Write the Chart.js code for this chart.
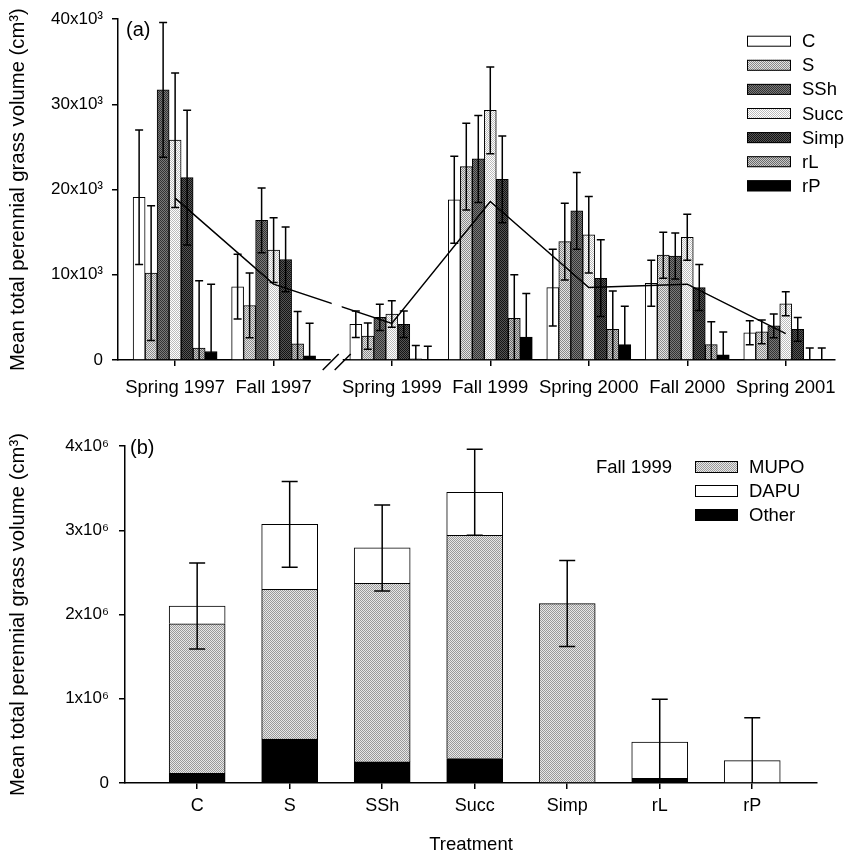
<!DOCTYPE html>
<html>
<head>
<meta charset="utf-8">
<script src="https://cdn.jsdelivr.net/npm/chart.js@4.4.1/dist/chart.umd.min.js"></script>
<style>
  html, body { margin: 0; padding: 0; background: #fff; }
  #wrap { position: relative; width: 853px; height: 857px; }
  canvas { position: absolute; left: 0; }
  #chartA { top: 0; }
  #chartB { top: 410px; }
</style>
</head>
<body>
<div id="wrap">
  <canvas id="chartA" width="853" height="410"></canvas>
  <canvas id="chartB" width="853" height="447"></canvas>
</div>
<script>
// ---- panel (a): volume by sampling date (x10^3 cm3) ----
const periods = ['Spring 1997', 'Fall 1997', 'Spring 1999', 'Fall 1999', 'Spring 2000', 'Fall 2000', 'Spring 2001'];
const treatments = ['C', 'S', 'SSh', 'Succ', 'Simp', 'rL', 'rP'];

const volC    = [19.1,  8.6, 4.2,  18.8,  8.5,  9.0, 3.2];
const volS    = [10.2,  6.4, 2.8,  22.7, 13.9, 12.3, 3.3];
const volSSh  = [31.7, 16.4, 5.0,  23.6, 17.5, 12.2, 4.0];
const volSucc = [25.8, 12.9, 5.4,  29.3, 14.7, 14.4, 6.6];
const volSimp = [21.4, 11.8, 4.2,  21.2,  9.6,  8.5, 3.6];
const volRL   = [1.4,   1.9, 0.15,  4.9,  3.6,  1.8, 0];
const volRP   = [1.0,   0.5, 0.05,  2.7,  1.8,  0.6, 0];
const seA     = [7.9,   3.8, 1.55,  5.1,  4.5,  2.7, 1.4];
const meanLine = [19.0, 8.9, 4.3,  18.6,  8.5,  8.9, 3.1];
const yTicksA = [0, 10, 20, 30, 40];

// ---- panel (b): Fall 1999 by species (x10^6 cm3) ----
const fall99Mupo  = [1.775, 1.78, 2.12, 2.65, 2.13, 0,     0];
const fall99Dapu  = [0.21,  0.77, 0.42, 0.51, 0,    0.43,  0.265];
const fall99Other = [0.115, 0.52, 0.25, 0.29, 0,    0.055, 0];
const seB         = [0.51,  0.51, 0.51, 0.51, 0.51, 0.51,  0.51];
const yTicksB = [0, 1, 2, 3, 4];

const FONT = "'Liberation Sans', Arial, Helvetica, sans-serif";
Chart.defaults.font.family = FONT;
Chart.defaults.color = '#000';

function stipple(a, b) {
  const c = document.createElement('canvas');
  c.width = 2; c.height = 2;
  const g = c.getContext('2d');
  g.fillStyle = a; g.fillRect(0, 0, 2, 2);
  g.fillStyle = b; g.fillRect(0, 0, 1, 1); g.fillRect(1, 1, 1, 1);
  return g.createPattern(c, 'repeat');
}

const fills = [
  '#ffffff',
  stipple('#e4e4e4', '#8a8a8a'),
  stipple('#7a7a7a', '#333333'),
  stipple('#ffffff', '#bcbcbc'),
  stipple('#555555', '#141414'),
  stipple('#c8c8c8', '#6a6a6a'),
  '#000000'
];
const seriesA = [volC, volS, volSSh, volSucc, volSimp, volRL, volRP];

// break in the time axis (1998 not sampled)
const breakGap = 0.2;
const periodX = periods.map((p, i) => i + (i >= 2 ? breakGap : 0));

const axisGrid = { drawOnChartArea: false, color: '#000', tickLength: 6, lineWidth: 1.5, offset: false };
const axisBorder = { color: '#000', width: 1.5 };

const errorBarsA = {
  id: 'errorBarsA',
  afterDatasetsDraw(chart) {
    const ctx = chart.ctx, y = chart.scales.y;
    ctx.save();
    ctx.strokeStyle = '#000';
    ctx.lineWidth = 1.5;
    seriesA.forEach((vals, d) => {
      chart.getDatasetMeta(d).data.forEach((bar, i) => {
        const v = vals[i], e = seA[i];
        const top = y.getPixelForValue(v + e);
        const low = v - e;
        const bot = y.getPixelForValue(Math.max(0, low));
        ctx.beginPath();
        ctx.moveTo(bar.x, bot); ctx.lineTo(bar.x, top);
        ctx.moveTo(bar.x - 4, top); ctx.lineTo(bar.x + 4, top);
        if (low > 0) { ctx.moveTo(bar.x - 4, bot); ctx.lineTo(bar.x + 4, bot); }
        ctx.stroke();
      });
    });
    ctx.restore();
  }
};

const decorA = {
  id: 'decorA',
  afterDraw(chart) {
    const ctx = chart.ctx, a = chart.chartArea;
    const xs = chart.scales.x;
    ctx.save();
    // axis break
    const bx = (xs.getPixelForValue(1) + xs.getPixelForValue(2 + breakGap)) / 2 + 4;
    ctx.fillStyle = '#fff';
    ctx.fillRect(bx - 5, a.top, 10, a.bottom - a.top - 5);
    ctx.fillRect(bx - 6, a.bottom - 4, 12, 8);
    ctx.strokeStyle = '#000';
    ctx.lineWidth = 1.5;
    ctx.beginPath();
    ctx.moveTo(bx - 14, a.bottom + 10); ctx.lineTo(bx + 2, a.bottom - 6);
    ctx.moveTo(bx - 2, a.bottom + 10); ctx.lineTo(bx + 14, a.bottom - 6);
    ctx.stroke();
    // panel tag
    ctx.fillStyle = '#000';
    ctx.font = '20px ' + FONT;
    ctx.textBaseline = 'alphabetic';
    ctx.fillText('(a)', a.left + 8, a.top + 17);
    // legend
    ctx.font = '18.5px ' + FONT;
    ctx.textBaseline = 'middle';
    ctx.lineWidth = 1;
    treatments.forEach((t, i) => {
      const cy = a.top + 22 + i * 24.1;
      const x0 = a.right - 88;
      ctx.fillStyle = fills[i];
      ctx.fillRect(x0, cy - 5.5, 44, 11);
      ctx.strokeRect(x0 + 0.5, cy - 5.5 + 0.5, 43, 10);
      ctx.fillStyle = '#000';
      ctx.fillText(t, x0 + 55, cy + 1);
    });
    ctx.restore();
  }
};

const dsA = seriesA.map((vals, d) => ({
  label: treatments[d],
  data: vals.map((v, i) => ({ x: periodX[i], y: v })),
  backgroundColor: fills[d],
  borderColor: '#000',
  borderWidth: 1,
  barThickness: 12
}));
dsA.push({
  type: 'line',
  label: 'mean',
  data: meanLine.map((v, i) => ({ x: periodX[i], y: v })),
  borderColor: '#000',
  borderWidth: 1.5,
  pointRadius: 0,
  fill: false,
  order: -1
});

new Chart(document.getElementById('chartA'), {
  type: 'bar',
  data: { datasets: dsA },
  options: {
    responsive: false,
    animation: false,
    devicePixelRatio: 1,
    layout: { padding: { left: 0, top: 17, right: 18, bottom: 0 } },
    plugins: { legend: { display: false }, tooltip: { enabled: false } },
    scales: {
      x: {
        type: 'linear',
        min: -0.58,
        max: 6.7,
        offset: false,
        grid: axisGrid,
        border: axisBorder,
        afterBuildTicks: s => { s.ticks = periodX.map(v => ({ value: v })); },
        afterFit: s => { s.height = 50; },
        ticks: {
          autoSkip: false, maxRotation: 0, padding: 11,
          font: { size: 18.5 },
          callback: (v, i) => periods[i]
        }
      },
      y: {
        min: 0,
        max: 40,
        grid: axisGrid,
        border: axisBorder,
        afterBuildTicks: s => { s.ticks = yTicksA.map(v => ({ value: v })); },
        afterFit: s => { s.width = 118; },
        ticks: {
          padding: 9,
          font: { size: 17 },
          callback: v => v === 0 ? '0' : v + 'x10³'
        },
        title: {
          display: true,
          text: 'Mean total perennial grass volume (cm³)',
          font: { size: 20.3 },
          padding: { top: 6, bottom: 0 }
        }
      }
    }
  },
  plugins: [errorBarsA, decorA]
});

// ---- panel (b) ----
const fillMupo = stipple('#e8e8e8', '#9a9a9a');
const stackB = [
  { label: 'Other', vals: fall99Other, fill: '#000000' },
  { label: 'MUPO', vals: fall99Mupo, fill: fillMupo },
  { label: 'DAPU', vals: fall99Dapu, fill: '#ffffff' }
];

const errorBarsB = {
  id: 'errorBarsB',
  afterDatasetsDraw(chart) {
    const ctx = chart.ctx, y = chart.scales.y, x = chart.scales.x;
    ctx.save();
    ctx.strokeStyle = '#000';
    ctx.lineWidth = 1.5;
    treatments.forEach((t, i) => {
      const total = fall99Other[i] + fall99Mupo[i] + fall99Dapu[i];
      const px = x.getPixelForValue(i);
      const top = y.getPixelForValue(total + seB[i]);
      const low = total - seB[i];
      const bot = y.getPixelForValue(Math.max(0, low));
      ctx.beginPath();
      ctx.moveTo(px, bot); ctx.lineTo(px, top);
      ctx.moveTo(px - 8, top); ctx.lineTo(px + 8, top);
      if (low > 0) { ctx.moveTo(px - 8, bot); ctx.lineTo(px + 8, bot); }
      ctx.stroke();
    });
    ctx.restore();
  }
};

const decorB = {
  id: 'decorB',
  afterDraw(chart) {
    const ctx = chart.ctx, a = chart.chartArea;
    ctx.save();
    ctx.fillStyle = '#000';
    ctx.font = '20px ' + FONT;
    ctx.textBaseline = 'alphabetic';
    ctx.fillText('(b)', a.left + 5, a.top + 8);
    ctx.font = '18.5px ' + FONT;
    ctx.textBaseline = 'middle';
    ctx.textAlign = 'right';
    const lx = a.right - 122;
    ctx.fillText('Fall 1999', lx - 23, a.top + 22);
    ctx.textAlign = 'left';
    ctx.lineWidth = 1;
    [stackB[1], stackB[2], stackB[0]].forEach((s, i) => {
      const cy = a.top + 21 + i * 24;
      ctx.fillStyle = s.fill;
      ctx.fillRect(lx, cy - 6, 43, 12);
      ctx.strokeRect(lx + 0.5, cy - 6 + 0.5, 42, 11);
      ctx.fillStyle = '#000';
      ctx.fillText(s.label, lx + 54, cy + 1);
    });
    ctx.restore();
  }
};

new Chart(document.getElementById('chartB'), {
  type: 'bar',
  data: {
    datasets: stackB.map(s => ({
      label: s.label,
      data: s.vals.map((v, i) => ({ x: i, y: v })),
      backgroundColor: s.fill,
      borderColor: '#000',
      borderWidth: 1,
      barThickness: 56
    }))
  },
  options: {
    responsive: false,
    animation: false,
    devicePixelRatio: 1,
    layout: { padding: { left: 0, top: 36, right: 36, bottom: 0 } },
    plugins: { legend: { display: false }, tooltip: { enabled: false } },
    scales: {
      x: {
        type: 'linear',
        stacked: true,
        min: -0.78,
        max: 6.7,
        offset: false,
        grid: axisGrid,
        border: axisBorder,
        afterBuildTicks: s => { s.ticks = treatments.map((t, i) => ({ value: i })); },
        afterFit: s => { s.height = 74; },
        ticks: {
          autoSkip: false, maxRotation: 0, padding: 6,
          font: { size: 18 },
          callback: (v, i) => treatments[i]
        },
        title: {
          display: true,
          text: 'Treatment',
          font: { size: 18.5 },
          padding: { top: 4, bottom: 1 }
        }
      },
      y: {
        stacked: true,
        min: 0,
        max: 4,
        grid: axisGrid,
        border: axisBorder,
        afterBuildTicks: s => { s.ticks = yTicksB.map(v => ({ value: v })); },
        afterFit: s => { s.width = 125; },
        ticks: {
          padding: 10,
          font: { size: 17 },
          callback: v => v === 0 ? '0' : v + 'x10⁶'
        },
        title: {
          display: true,
          text: 'Mean total perennial grass volume (cm³)',
          font: { size: 20.3 },
          padding: { top: 6, bottom: 0 }
        }
      }
    }
  },
  plugins: [errorBarsB, decorB]
});
</script>
</body>
</html>
